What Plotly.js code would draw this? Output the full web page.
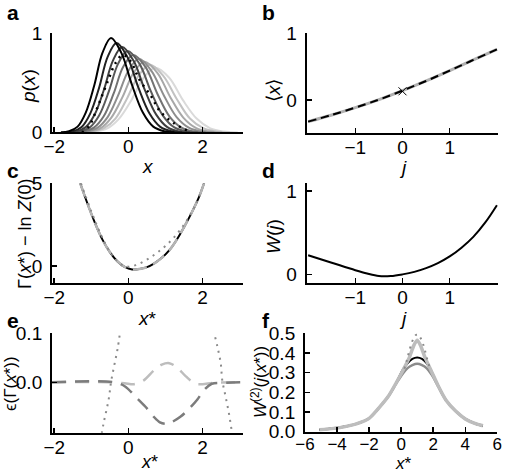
<!DOCTYPE html>
<html>
<head>
<meta charset="utf-8">
<script src="https://cdn.plot.ly/plotly-3.0.1.min.js"></script>
<style>
  html, body { margin: 0; padding: 0; background: #fff; }
  #chart { width: 511px; height: 473px; }
</style>
</head>
<body>
<div id="chart"></div>
<script>
// ---- (a) distributions p(x) for a family of sources j (dark -> light) ----
const a0x = [-1.82, -1.60, -1.37, -1.15, -0.92, -0.70, -0.47, -0.19, 0.10, 0.39, 0.67, 0.96, 1.24];
const a0y = [0.002, 0.013, 0.059, 0.20, 0.475, 0.80, 0.95, 0.80, 0.475, 0.20, 0.059, 0.013, 0.002];
const a1x = [-1.73, -1.50, -1.26, -1.03, -0.79, -0.56, -0.32, -0.03, 0.27, 0.57, 0.86, 1.16, 1.45];
const a1y = [0.002, 0.012, 0.056, 0.19, 0.45, 0.76, 0.90, 0.76, 0.45, 0.19, 0.056, 0.012, 0.002];
const a2x = [-1.64, -1.40, -1.15, -0.91, -0.66, -0.42, -0.17, 0.14, 0.44, 0.75, 1.05, 1.36, 1.66];
const a2y = [0.002, 0.011, 0.054, 0.18, 0.43, 0.72, 0.86, 0.72, 0.43, 0.18, 0.054, 0.011, 0.002];
const a3x = [-1.55, -1.30, -1.04, -0.79, -0.53, -0.28, -0.02, 0.30, 0.61, 0.93, 1.24, 1.56, 1.87];
const a3y = [0.002, 0.011, 0.051, 0.17, 0.41, 0.69, 0.82, 0.69, 0.41, 0.17, 0.051, 0.011, 0.002];
const a4x = [-1.46, -1.20, -0.93, -0.67, -0.40, -0.14, 0.13, 0.46, 0.78, 1.11, 1.43, 1.76, 2.08];
const a4y = [0.002, 0.010, 0.049, 0.16, 0.39, 0.66, 0.78, 0.66, 0.39, 0.16, 0.049, 0.010, 0.002];
const a5x = [-1.40, -1.12, -0.84, -0.56, -0.28, 0.00, 0.28, 0.62, 0.96, 1.30, 1.64, 1.98, 2.32];
const a5y = [0.001, 0.010, 0.046, 0.155, 0.37, 0.62, 0.74, 0.62, 0.37, 0.155, 0.046, 0.010, 0.001];
const a6x = [-1.34, -1.05, -0.75, -0.46, -0.16, 0.14, 0.43, 0.78, 1.13, 1.48, 1.83, 2.18, 2.53];
const a6y = [0.001, 0.009, 0.044, 0.15, 0.355, 0.60, 0.71, 0.60, 0.355, 0.15, 0.044, 0.009, 0.001];
const a7x = [-1.28, -0.97, -0.66, -0.35, -0.04, 0.27, 0.58, 0.94, 1.30, 1.66, 2.02, 2.38, 2.74];
const a7y = [0.001, 0.009, 0.043, 0.14, 0.34, 0.57, 0.68, 0.57, 0.34, 0.14, 0.043, 0.009, 0.001];
const a8x = [-1.22, -0.90, -0.57, -0.25, 0.08, 0.41, 0.73, 1.10, 1.47, 1.84, 2.21, 2.58, 2.95];
const a8y = [0.001, 0.009, 0.041, 0.14, 0.325, 0.55, 0.65, 0.55, 0.325, 0.14, 0.041, 0.009, 0.001];
// dotted reference distribution
const aDotX = [-1.25, -1.05, -0.87, -0.69, -0.51, -0.36, -0.15, 0.05, 0.30, 0.62, 0.84, 1.24, 1.65];
const aDotY = [0.0, 0.07, 0.22, 0.39, 0.56, 0.69, 0.78, 0.72, 0.53, 0.36, 0.22, 0.09, 0.01];

// ---- (b) mean <x> as a function of j ----
const jB = [-2, -1.5, -1, -0.5, 0, 0.5, 1, 1.5, 2];
const meanB = [-0.325, -0.225, -0.115, 0.005, 0.14, 0.285, 0.44, 0.6, 0.76];
const markB_j = [0];
const markB_x = [0.13];

// ---- (c) effective action ----
const cX = [-1.3, -1.1, -0.9, -0.7, -0.5, -0.3, -0.1, 0.1, 0.3, 0.5, 0.7, 0.9, 1.1, 1.3, 1.5, 1.7, 1.9, 2.04];
const cY = [5.0, 3.75, 2.6, 1.6, 0.85, 0.3, -0.05, -0.2, -0.17, -0.06, 0.17, 0.5, 0.95, 1.58, 2.35, 3.2, 4.15, 5.0];
const cDotX = [-1.28, -1.0, -0.8, -0.6, -0.4, -0.2, 0.0, 0.2, 0.4, 0.6, 0.8, 1.0, 1.2, 1.4, 1.6, 1.8, 1.97];
const cDotY = [5.0, 3.3, 2.2, 1.25, 0.55, 0.12, -0.03, 0.06, 0.27, 0.53, 0.85, 1.22, 1.66, 2.2, 2.85, 3.65, 4.55];

// ---- (d) cumulant generating function W(j) ----
const jD = [-2, -1.5, -1, -0.75, -0.5, -0.25, 0, 0.25, 0.5, 0.75, 1, 1.25, 1.5, 1.75, 2];
const wD = [0.23, 0.14, 0.05, 0.01, -0.02, -0.02, 0.0, 0.03, 0.075, 0.135, 0.215, 0.32, 0.45, 0.62, 0.83];

// ---- (e) error of the approximations ----
const eLightX = [-2.06, -0.5, -0.1, 0.15, 0.4, 0.7, 0.9, 1.1, 1.3, 1.55, 1.8, 2.0, 2.3, 3.09];
const eLightY = [0, 0, -0.002, -0.004, 0.003, 0.025, 0.036, 0.039, 0.031, 0.012, -0.003, -0.004, -0.001, 0];
const eDarkX = [-2.06, -0.4, -0.1, 0.2, 0.46, 0.68, 0.85, 1.0, 1.15, 1.41, 1.65, 1.86, 2.05, 2.25, 2.6, 3.09];
const eDarkY = [0, 0, -0.008, -0.03, -0.05, -0.07, -0.082, -0.085, -0.082, -0.07, -0.053, -0.035, -0.015, -0.003, -0.001, 0];
const eDotLX = [-0.72, -0.67, -0.53, -0.47, -0.38, -0.29, -0.22];
const eDotLY = [-0.105, -0.084, -0.034, 0.0, 0.035, 0.069, 0.105];
const eDotRX = [2.34, 2.4, 2.49, 2.53, 2.62, 2.71, 2.78, 2.8];
const eDotRY = [0.092, 0.073, 0.039, 0.005, -0.029, -0.063, -0.096, -0.105];

// ---- (f) second derivative W''(j(x*)) ----
const fX = [-5.1, -4.2, -3.5, -2.8, -2.0, -1.4, -0.8, -0.3, 0.1, 0.5, 0.8, 1.0, 1.2, 1.5, 1.9, 2.3, 2.8, 3.4, 4.0, 4.6, 5.1];
const fLightY = [0.01, 0.017, 0.026, 0.04, 0.068, 0.12, 0.18, 0.25, 0.31, 0.375, 0.44, 0.465, 0.44, 0.375, 0.305, 0.235, 0.16, 0.105, 0.065, 0.042, 0.03];
const fBlackX = [-5.1, -4.2, -3.5, -2.8, -2.0, -1.4, -0.8, -0.3, 0.1, 0.4, 0.7, 1.0, 1.3, 1.6, 1.9, 2.3, 2.8, 3.4, 4.0, 4.6, 5.1];
const fBlackY = [0.01, 0.017, 0.026, 0.04, 0.068, 0.12, 0.18, 0.25, 0.315, 0.348, 0.37, 0.377, 0.37, 0.347, 0.305, 0.236, 0.16, 0.105, 0.065, 0.042, 0.03];
const fMidY = [0.01, 0.017, 0.026, 0.04, 0.068, 0.12, 0.18, 0.246, 0.295, 0.323, 0.338, 0.345, 0.338, 0.322, 0.29, 0.232, 0.16, 0.105, 0.065, 0.042, 0.03];
const fDotX = [0.2, 0.38, 0.52, 0.65, 0.78, 0.9, 1.0, 1.1, 1.22, 1.35, 1.48, 1.62, 1.8];
const fDotY = [0.32, 0.37, 0.415, 0.45, 0.475, 0.49, 0.495, 0.49, 0.475, 0.45, 0.415, 0.37, 0.32];

// ---- tick labels ----
const ticksX_a = [-2, 0, 2];
const ticksY_a = [0, 1];
const ticksX_b = [-1, 0, 1];
const ticksY_b = [0, 1];
const ticksY_c = [0, 5];
const ticksY_d = [0, 1];
const ticksY_e = [0.0, 0.1];
const ticksX_f = [-6, -4, -2, 0, 2, 4, 6];
const ticksY_f = [0.0, 0.1, 0.2, 0.3, 0.4, 0.5];

const FONT = 'Liberation Sans, Arial, Helvetica, sans-serif';
const TICK_SIZE = 19;
const TITLE_SIZE = 19;

function line(xa, ya, x, y, color, width, dash, smooth) {
  return {
    type: 'scatter', mode: 'lines', x: x, y: y, xaxis: xa, yaxis: ya,
    line: { color: color, width: width, dash: dash || 'solid',
            shape: smooth === 0 ? 'linear' : 'spline', smoothing: smooth == null ? 1 : smooth },
    hoverinfo: 'skip', showlegend: false
  };
}

const aColors = ['#000000', '#222222', '#3e3e3e', '#595959', '#737373', '#8e8e8e', '#a8a8a8', '#c2c2c2', '#dadada'];
const aSeries = [[a0x, a0y], [a1x, a1y], [a2x, a2y], [a3x, a3y], [a4x, a4y],
                 [a5x, a5y], [a6x, a6y], [a7x, a7y], [a8x, a8y]];

const traces = [];
// (a) light curves underneath, darkest on top
for (let k = aSeries.length - 1; k >= 0; k--) {
  traces.push(line('x', 'y', aSeries[k][0], aSeries[k][1], aColors[k], 2));
}
traces.push(line('x', 'y', aDotX, aDotY, '#000000', 2.5, '2px,5px'));

// (b)
traces.push(line('x2', 'y2', jB, meanB, '#b0b0b0', 3));
traces.push(line('x2', 'y2', jB, meanB, '#000000', 2, '8px,5px'));
traces.push({ type: 'scatter', mode: 'markers', x: markB_j, y: markB_x, xaxis: 'x2', yaxis: 'y2',
  marker: { symbol: 'x-thin-open', size: 8, color: '#000', line: { color: '#000', width: 1 } },
  hoverinfo: 'skip', showlegend: false });

// (c)
traces.push(line('x3', 'y3', cX, cY, '#000000', 2));
traces.push(line('x3', 'y3', cX, cY, '#b4b4b4', 2.5, '14px,7px'));
traces.push(line('x3', 'y3', cDotX, cDotY, '#8a8a8a', 2, '2px,5px'));

// (d)
traces.push(line('x4', 'y4', jD, wD, '#000000', 2));

// (e)
traces.push(line('x5', 'y5', eLightX, eLightY, '#bdbdbd', 2.5, '14px,9px', 0.9));
traces.push(line('x5', 'y5', eDarkX, eDarkY, '#7c7c7c', 2.5, '14px,9px', 0.9));
traces.push(line('x5', 'y5', eDotLX, eDotLY, '#8a8a8a', 2, '2px,5px'));
traces.push(line('x5', 'y5', eDotRX, eDotRY, '#8a8a8a', 2, '2px,5px'));

// (f)
traces.push(line('x6', 'y6', fBlackX, fMidY, '#8c8c8c', 2.5));
traces.push(line('x6', 'y6', fBlackX, fBlackY, '#000000', 2));
traces.push(line('x6', 'y6', fX, fLightY, '#bdbdbd', 3.5, 'solid', 0.6));
traces.push(line('x6', 'y6', fDotX, fDotY, '#8a8a8a', 2, '2px,5px'));

function axis(range, tickvals, domain, anchor, fmt, isY, size) {
  const ax = {
    range: range, domain: domain, anchor: anchor,
    tickmode: 'array', tickvals: tickvals,
    showline: true, linecolor: '#000', linewidth: 2,
    ticks: 'inside', ticklen: 5, tickwidth: 1.5, tickcolor: '#000',
    showgrid: false, zeroline: false, fixedrange: true,
    tickfont: { family: FONT, size: size || TICK_SIZE, color: '#000' },
    ticklabelstandoff: isY ? 4 : -4,
    automargin: false
  };
  if (fmt) ax.tickformat = fmt;
  return ax;
}

const DX_L = [0.1018, 0.4755];
const DX_R = [0.6002, 0.9752];

const layout = {
  width: 511, height: 473,
  margin: { l: 0, r: 0, t: 0, b: 0 },
  paper_bgcolor: '#fff', plot_bgcolor: '#fff',
  showlegend: false,
  font: { family: FONT, color: '#000' },
  xaxis:  axis([-2.06, 3.09], ticksX_a, DX_L, 'y'),
  yaxis:  axis([0, 1], ticksY_a, [0.7199, 0.9302], 'x', null, true),
  xaxis2: axis([-2.03, 2.03], ticksX_b, DX_R, 'y2'),
  yaxis2: axis([-0.5, 1], ticksY_b, [0.7182, 0.9296], 'x2', null, true),
  xaxis3: axis([-2.06, 3.09], ticksX_a, DX_L, 'y3'),
  yaxis3: axis([-1, 5], ticksY_c, [0.4023, 0.6125], 'x3', null, true),
  xaxis4: axis([-2.03, 2.03], ticksX_b, DX_R, 'y4'),
  yaxis4: axis([-0.1, 1.1], ticksY_d, [0.4023, 0.6137], 'x4', null, true),
  xaxis5: axis([-2.06, 3.09], ticksX_a, DX_L, 'y5'),
  yaxis5: axis([-0.103, 0.1], ticksY_e, [0.0852, 0.2953], 'x5', '.1f', true),
  xaxis6: axis([-6, 6], ticksX_f, [0.5969, 0.9732], 'y6', null, false, 17),
  yaxis6: axis([0, 0.5], ticksY_f, [0.0873, 0.2953], 'x6', '.1f', true),
  annotations: []
};

function note(text, px, py, opts) {
  const o = opts || {};
  return {
    text: text, xref: 'paper', yref: 'paper',
    x: px / 511, y: 1 - py / 473, xanchor: 'center', yanchor: 'middle',
    showarrow: false, textangle: o.angle || 0,
    font: { family: FONT, size: o.size || TITLE_SIZE, color: '#000' }
  };
}

// panel letters
[['a', 13, 13], ['b', 268, 13], ['c', 13, 170], ['d', 268, 170], ['e', 13, 320], ['f', 266, 320]]
  .forEach(function (p) { layout.annotations.push(note('<b>' + p[0] + '</b>', p[1], p[2], { size: 21 })); });

// axis titles
layout.annotations.push(note('<i>x</i>', 147.5, 166));
layout.annotations.push(note('<i>j</i>', 402.5, 167));
layout.annotations.push(note('<i>x</i>*', 147.5, 318));
layout.annotations.push(note('<i>j</i>', 402.5, 318));
layout.annotations.push(note('<i>x</i>*', 149, 462, { size: 18 }));
layout.annotations.push(note('<i>x</i>*', 403, 463, { size: 17 }));

layout.annotations.push(note('<i>p</i>(<i>x</i>)', 28, 86, { angle: -90 }));
layout.annotations.push(note('⟨<i>x</i>⟩', 274, 90, { angle: -90 }));
layout.annotations.push(note('Γ(<i>x</i>*) − ln <i>Z</i>(0)', 25, 234, { angle: -90, size: 18 }));
layout.annotations.push(note('<i>W</i>(<i>j</i>)', 273, 237, { angle: -90 }));
layout.annotations.push(note('ϵ(Γ(<i>x</i>*))', 10, 384, { angle: -90, size: 17 }));
layout.annotations.push(note('<i>W</i><sup>(2)</sup>(<i>j</i>(<i>x</i>*))', 259, 382, { angle: -90, size: 17 }));

Plotly.newPlot('chart', traces, layout, { staticPlot: true, displayModeBar: false });
</script>
</body>
</html>
